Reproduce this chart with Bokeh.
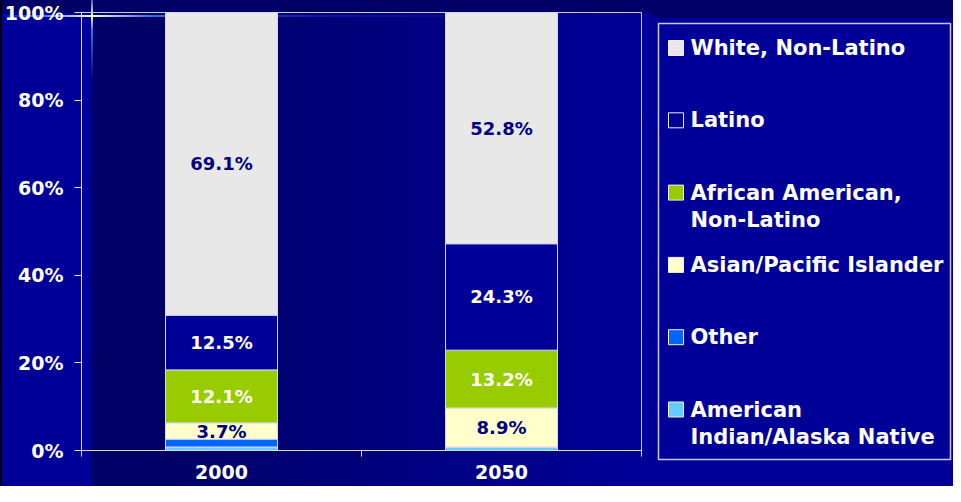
from bokeh.plotting import figure
from bokeh.models import ColumnDataSource, Range1d, FixedTicker
from bokeh.layouts import row
from bokeh.embed import file_html
from bokeh.resources import INLINE
from bokeh.core.properties import value

# ---------------- data ----------------
years = ["2000", "2050"]
series_keys = ["ai", "other", "asian", "african", "latino", "white"]
legend_labels = ["American\nIndian/Alaska Native", "Other", "Asian/Pacific Islander",
                 "African American,\nNon-Latino", "Latino", "White, Non-Latino"]
ai = [0.8, 0.8]
other = [1.8, 0.0]
asian = [3.7, 8.9]
african = [12.1, 13.2]
latino = [12.5, 24.3]
white = [69.1, 52.8]
colors = ["#66CCFF", "#0066FF", "#FFFFCC", "#99CC00", "#000099", "#E8E8E8"]
show_label = [False, False, True, True, True, True]
label_colors = ["#000080", "white", "#000080", "white", "white", "#000080"]
y_ticks = [0, 20, 40, 60, 80, 100]

FONT = "DejaVu Sans"
AXIS = "#dcdcee"

series = [ai, other, asian, african, latino, white]
xs = [i + 0.5 for i in range(len(years))]
data = {"x": xs}
for k, vals in zip(series_keys, series):
    data[k] = vals
src = ColumnDataSource(data)

# ---------------- main chart ----------------
p = figure(width=652, height=486, x_range=Range1d(0, len(years)), y_range=Range1d(0, 100),
           output_backend="svg", toolbar_location=None,
           min_border_left=81, min_border_right=11, min_border_top=12, min_border_bottom=36)
p.frame_align = False
p.background_fill_color = None
p.border_fill_color = None
p.outline_line_color = "#c8c8e8"
p.outline_line_width = 1
p.xgrid.visible = False
p.ygrid.visible = False

p.styles = {"background": ", ".join([
    "linear-gradient(to bottom, rgba(80,140,255,0.7) 0px, rgba(255,255,220,1) 16px, rgba(80,140,255,0.8) 30px, rgba(0,60,255,0) 80px) 91px 0px / 2px 80px no-repeat",
    "linear-gradient(to right, rgba(0,60,255,0) 0px, rgba(60,120,255,0.9) 40px, rgba(255,255,220,1) 92px, rgba(60,120,255,0.9) 150px, rgba(0,60,255,0.35) 330px, rgba(0,60,255,0) 600px) 0px 15px / 100% 2px no-repeat",
    "linear-gradient(#000000, #000000) 0px 0px / 2px 100% no-repeat",
    "linear-gradient(#000066, #000066) 0px 0px / 100% 13px no-repeat",
    "linear-gradient(#000099, #000099) 0px 0px / 92px 100% no-repeat",
    "linear-gradient(to right, #000066 0px, #000066 160px, #000090 560px, #000099 652px)",
])}

p.vbar_stack(series_keys, x="x", width=0.4, source=src, fill_color=colors,
             line_color="#d8d8f0", line_width=1)

lx, ly, lt, lc = [], [], [], []
for j in range(len(years)):
    base = 0.0
    for k, vals in enumerate(series):
        v = vals[j]
        if show_label[k]:
            lx.append(xs[j])
            ly.append(base + v / 2)
            lt.append(f"{v:.1f}%")
            lc.append(label_colors[k])
        base += v
p.text(x=lx, y=ly, text=lt, text_color=lc, text_font=value(FONT), text_font_style="bold",
       text_font_size="18px", text_align="center", text_baseline="middle")

xa = p.xaxis[0]
xa.ticker = FixedTicker(ticks=xs, minor_ticks=list(range(len(years) + 1)))
xa.major_label_overrides = {x: y for x, y in zip(xs, years)}
xa.major_tick_line_color = None
xa.major_tick_out = 0
xa.minor_tick_in = 0
xa.minor_tick_out = 6
xa.minor_tick_line_color = AXIS
xa.axis_line_color = AXIS
xa.major_label_text_color = "white"
xa.major_label_text_font = FONT
xa.major_label_text_font_style = "bold"
xa.major_label_text_font_size = "19px"
xa.major_label_standoff = 8

ya = p.yaxis[0]
ya.ticker = FixedTicker(ticks=y_ticks)
ya.major_label_overrides = {t: f"{t}%" for t in y_ticks}
ya.major_tick_in = 0
ya.major_tick_out = 7
ya.major_tick_line_color = AXIS
ya.minor_tick_line_color = None
ya.axis_line_color = AXIS
ya.major_label_text_color = "white"
ya.major_label_text_font = FONT
ya.major_label_text_font_style = "bold"
ya.major_label_text_font_size = "19px"
ya.major_label_standoff = 11

# ---------------- legend panel ----------------
lg = figure(width=301, height=486, x_range=Range1d(0, 301), y_range=Range1d(486, 0),
            output_backend="svg", toolbar_location=None,
            x_axis_location=None, y_axis_location=None, min_border=0)
lg.frame_align = False
lg.background_fill_color = None
lg.border_fill_color = None
lg.outline_line_color = None
lg.xgrid.visible = False
lg.ygrid.visible = False
lg.styles = {"background": "linear-gradient(#000066, #000066) 0px 0px / 100% 18px no-repeat, #000099"}

lg.quad(left=6, right=298, top=23, bottom=459, fill_color=None, line_color="#c8c8f0", line_width=1.5)

order = list(range(len(series_keys)))[::-1]
sq_y, sq_c, tx, ty, tt = [], [], [], [], []
for i, k in enumerate(order):
    yi = 47.5 + i * 72.3
    sq_y.append(yi)
    sq_c.append(colors[k])
    for li, line in enumerate(legend_labels[k].split("\n")):
        tx.append(38)
        ty.append(yi + li * 27)
        tt.append(line)
lg.rect(x=[23.5] * len(sq_y), y=sq_y, width=15, height=15, fill_color=sq_c,
        line_color="#f0f0f0", line_width=1)
lg.text(x=tx, y=ty, text=tt, text_color="white", text_font=value(FONT), text_font_style="bold",
        text_font_size="21px", text_align="left", text_baseline="middle")

layout = row(p, lg)
open("out.html", "w").write(file_html(layout, INLINE))
